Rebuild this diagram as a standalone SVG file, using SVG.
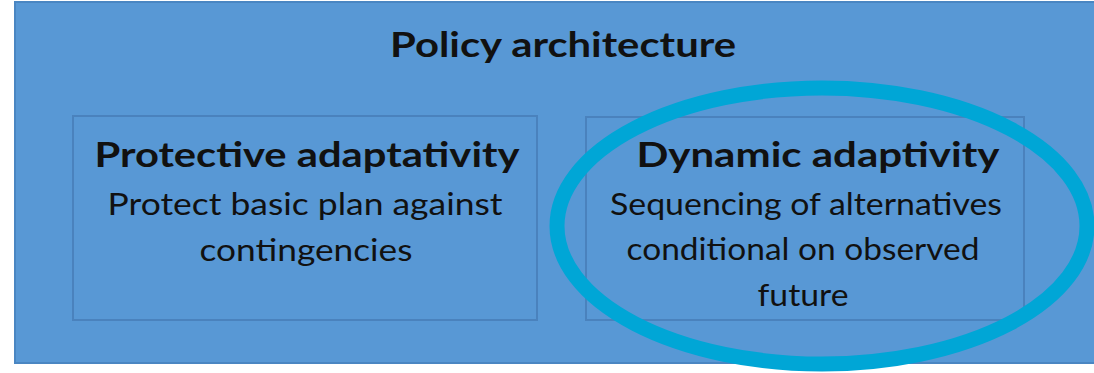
<svg xmlns="http://www.w3.org/2000/svg" width="1094" height="373" viewBox="0 0 1094 373">
<style>
.frame{fill:#5898d5;stroke:#4a86c2;stroke-width:2}
.box{fill:none;stroke:#4a82bd;stroke-width:2}
.t{font-family:Lato,"Open Sans","Liberation Sans",sans-serif;fill:#111;text-anchor:middle}
.b{font-weight:bold}
</style>
<rect width="1094" height="373" fill="#ffffff"/>
<g id="policy-architecture">
<rect class="frame" x="15" y="2" width="1090" height="361"/>
<text class="t b" x="563" y="57" font-size="34" textLength="346" lengthAdjust="spacingAndGlyphs">Policy architecture</text>
</g>
<g id="protective">
<rect class="box" x="73" y="116" width="464" height="204"/>
<text class="t b" x="307" y="167" font-size="34" textLength="425" lengthAdjust="spacingAndGlyphs">Protective adaptativity</text>
<text class="t" x="305" y="215" font-size="30" textLength="395" lengthAdjust="spacingAndGlyphs">Protect basic plan against</text>
<text class="t" x="306" y="261" font-size="30" textLength="213" lengthAdjust="spacingAndGlyphs">contingencies</text>
</g>
<g id="dynamic">
<rect class="box" x="586" y="117" width="438" height="203"/>
<text class="t b" x="818" y="167" font-size="34" textLength="363" lengthAdjust="spacingAndGlyphs">Dynamic adaptivity</text>
<text class="t" x="806" y="215" font-size="30" textLength="392" lengthAdjust="spacingAndGlyphs">Sequencing of alternatives</text>
<text class="t" x="803" y="260" font-size="30" textLength="353" lengthAdjust="spacingAndGlyphs">conditional on observed</text>
<text class="t" x="803" y="306" font-size="30" textLength="91" lengthAdjust="spacingAndGlyphs">future</text>
</g>
<g id="highlight">
<ellipse cx="822" cy="226" rx="265" ry="138" fill="none" stroke="#00a6d6" stroke-width="15"/>
</g>
</svg>
